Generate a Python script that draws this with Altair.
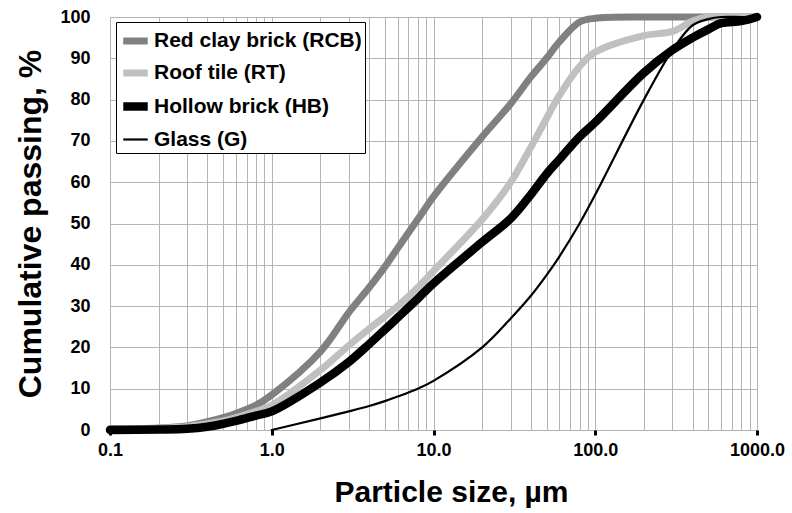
import altair as alt
import pandas as pd

# Particle size distribution (cumulative passing, %) of the four powders
sizes = [0.1, 0.2, 0.3, 0.4, 0.5, 0.6, 0.8, 1, 2, 3, 4, 5, 6, 8, 10,
         20, 30, 40, 50, 60, 80, 100, 200, 300, 400, 500, 600, 800, 1000]

rcb = [0.3, 0.5, 1.0, 2.0, 3.0, 4.0, 6.0, 8.5, 19, 28.5, 34.5, 39.5, 44, 51, 56.5,
       71, 79, 85.5, 90, 94, 98.8, 99.7, 100, 100, 100, 100, 100, 100, 100]
rt = [0.2, 0.4, 0.8, 1.5, 2.2, 3.0, 4.5, 6.0, 14.5, 20.5, 24.5, 27.5, 30, 34.5, 38.5,
      51, 60, 68.5, 75.5, 81, 88, 91.5, 95.5, 96.5, 99, 100, 100, 100, 100]
hb = [0.0, 0.1, 0.3, 0.8, 1.5, 2.2, 3.5, 4.5, 11.5, 16.5, 20.8, 24.3, 27.2, 31.8, 35.5,
      45.5, 51.2, 57, 62, 65.5, 71, 74.5, 86.5, 92, 95, 97, 98.5, 99, 100]
glass = [None, None, None, None, None, None, None, 0.0, 2.8, 4.5, 5.8, 7.0, 8.1, 10.0, 11.9,
         20, 27, 32.5, 37.5, 42, 50, 57, 80, 92, 98, 99.5, 100, 100, 100]

series_names = ["Red clay brick (RCB)", "Roof tile (RT)", "Hollow brick (HB)", "Glass (G)"]
series_colors = ["#808080", "#c0c0c0", "#000000", "#000000"]
series_widths = [7, 7, 8.5, 2.2]

rows = []
for name, vals in zip(series_names, [rcb, rt, hb, glass]):
    for s, v in zip(sizes, vals):
        if v is not None:
            rows.append({"size": s, "passing": v, "series": name})
df = pd.DataFrame(rows)

# grid lines at every 1..9 x 10^n
grid_vals = [round(m * 10 ** e, 6) for e in range(-1, 3) for m in range(1, 10)] + [1000]

is_major = "abs(log(datum.value)/LN10 - round(log(datum.value)/LN10)) < 1e-6"

font = "Liberation Sans"

legend_cfg = dict(
    title=None,
    orient="none", legendX=6, legendY=5,
    symbolType="stroke", symbolSize=600,
    labelFont=font, labelFontSize=21, labelFontWeight="bold", labelColor="black",
    labelOffset=2, labelLimit=400, rowPadding=2,
    strokeColor="black", fillColor="white", padding=3,
)

chart = alt.Chart(df).mark_line(
    strokeCap="round", strokeJoin="round", interpolate="catmull-rom"
).encode(
    x=alt.X(
        "size:Q",
        scale=alt.Scale(type="log", domain=[0.1, 1000], nice=False),
        axis=alt.Axis(
            title="Particle size, µm",
            titleX=341, titleAlign="center",
            values=grid_vals,
            labelExpr=f"({is_major}) ? format(datum.value, '.1f') : ''",
            labelFont=font, labelFontSize=18, labelFontWeight="bold", labelColor="black",
            labelPadding=6, labelFlush=False, labelOverlap=False,
            titleFont=font, titleFontSize=30, titleFontWeight="bold", titleColor="black",
            titlePadding=18,
            grid=True, gridColor="#b4b4b4", gridWidth=1,
            tickColor="black", tickWidth=3, tickSize=5,
            tickOpacity={"condition": {"test": is_major, "value": 1}, "value": 0},
            domain=False,
        ),
    ),
    y=alt.Y(
        "passing:Q",
        scale=alt.Scale(domain=[0, 100], nice=False),
        axis=alt.Axis(
            title="Cumulative passing, %",
            values=list(range(0, 101, 10)),
            labelFont=font, labelFontSize=18, labelFontWeight="bold", labelColor="black",
            labelPadding=20,
            titleFont=font, titleFontSize=32, titleFontWeight="bold", titleColor="black",
            titlePadding=12,
            grid=True, gridColor="#b4b4b4", gridWidth=1,
            ticks=False, domain=False,
        ),
    ),
    color=alt.Color(
        "series:N",
        scale=alt.Scale(domain=series_names, range=series_colors),
        legend=alt.Legend(**legend_cfg),
    ),
    strokeWidth=alt.StrokeWidth(
        "series:N",
        scale=alt.Scale(type="ordinal", domain=series_names, range=series_widths),
        legend=alt.Legend(**legend_cfg),
    ),
    detail="series:N",
).properties(
    width=647,
    height=413,
    autosize=alt.AutoSizeParams(type="none"),
    padding={"left": 110, "top": 17, "right": 35, "bottom": 83},
).configure_view(
    stroke="black", strokeWidth=4
).configure(background="white")

chart.save("out.html", embed_options={"renderer": "svg", "actions": False})
